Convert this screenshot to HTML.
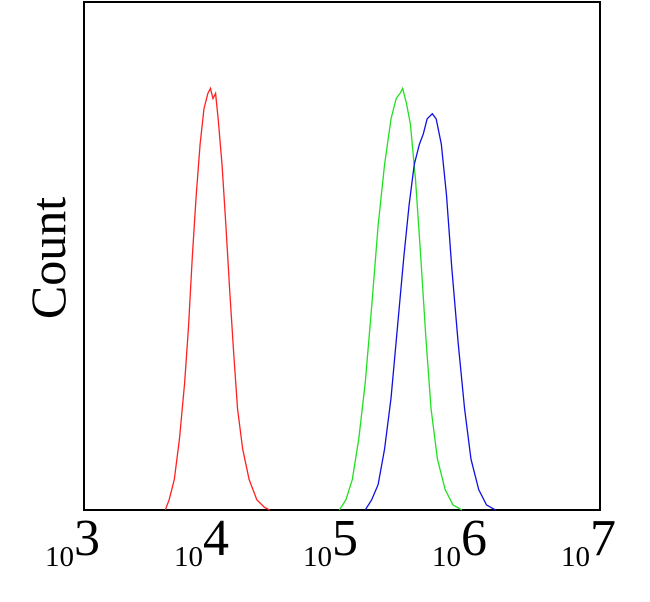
<!DOCTYPE html>
<html><head><meta charset="utf-8"><style>
body{margin:0;background:#fff}
svg text{font-family:"Liberation Serif",serif;fill:#000}
</style></head><body>
<svg width="650" height="597" viewBox="0 0 650 597">
<rect x="84" y="2" width="516" height="508" fill="#fff" stroke="#000" stroke-width="2"/>
<text transform="translate(65,258) rotate(-90)" text-anchor="middle" font-size="50">Count</text>
<g id="ticks"></g>
<g id="series"></g>
</svg>
<script>
const tickExps=[3,4,5,6,7];
const redX=[3.63,3.66,3.70,3.74,3.78,3.81,3.84,3.87,3.90,3.93,3.96,3.98,4.00,4.02,4.04,4.07,4.10,4.13,4.16,4.19,4.23,4.28,4.34,4.40,4.44];
const redY=[0,2,6,14,25,36,50,62,72,79,82,83,81,82,77,68,56,43,31,20,12,6,2,0.5,0];
const greenX=[4.98,5.03,5.08,5.13,5.18,5.23,5.28,5.33,5.38,5.42,5.45,5.47,5.50,5.53,5.57,5.61,5.65,5.69,5.74,5.80,5.86,5.93];
const greenY=[0,2,6,14,25,40,56,68,77,81,82,83,80,76,65,50,34,20,10,4,1,0];
const blueX=[5.18,5.23,5.28,5.33,5.38,5.43,5.48,5.52,5.56,5.60,5.63,5.66,5.70,5.73,5.77,5.81,5.85,5.90,5.95,6.00,6.06,6.12,6.19];
const blueY=[0,2,5,12,22,36,50,60,68,72,74,77,78,77,72,62,48,33,20,10,4,1,0];
const NS="http://www.w3.org/2000/svg";
const xs=l=>84+(l-3)*129;
const ys=c=>510-c/100*508;
const tg=document.getElementById('ticks');
tickExps.forEach(e=>{
  const t=document.createElementNS(NS,'text');
  
  
  t.setAttribute('x',xs(e)-39);t.setAttribute('y',566);
  t.innerHTML='<tspan font-size="29">10</tspan><tspan font-size="52" dy="-11">'+e+'</tspan>';
  tg.appendChild(t);
});
const sg=document.getElementById('series');
[[redX,redY,'#ff2020','red-histogram'],[greenX,greenY,'#20e020','green-histogram'],[blueX,blueY,'#1010e0','blue-histogram']].forEach(s=>{
  const p=document.createElementNS(NS,'polyline');
  
  
  p.setAttribute('points',s[0].map((x,i)=>xs(x)+','+ys(s[1][i])).join(' '));
  p.setAttribute('fill','none');p.setAttribute('stroke',s[2]);p.setAttribute('stroke-width','1.3');
  sg.appendChild(p);
});
</script>
</body></html>
